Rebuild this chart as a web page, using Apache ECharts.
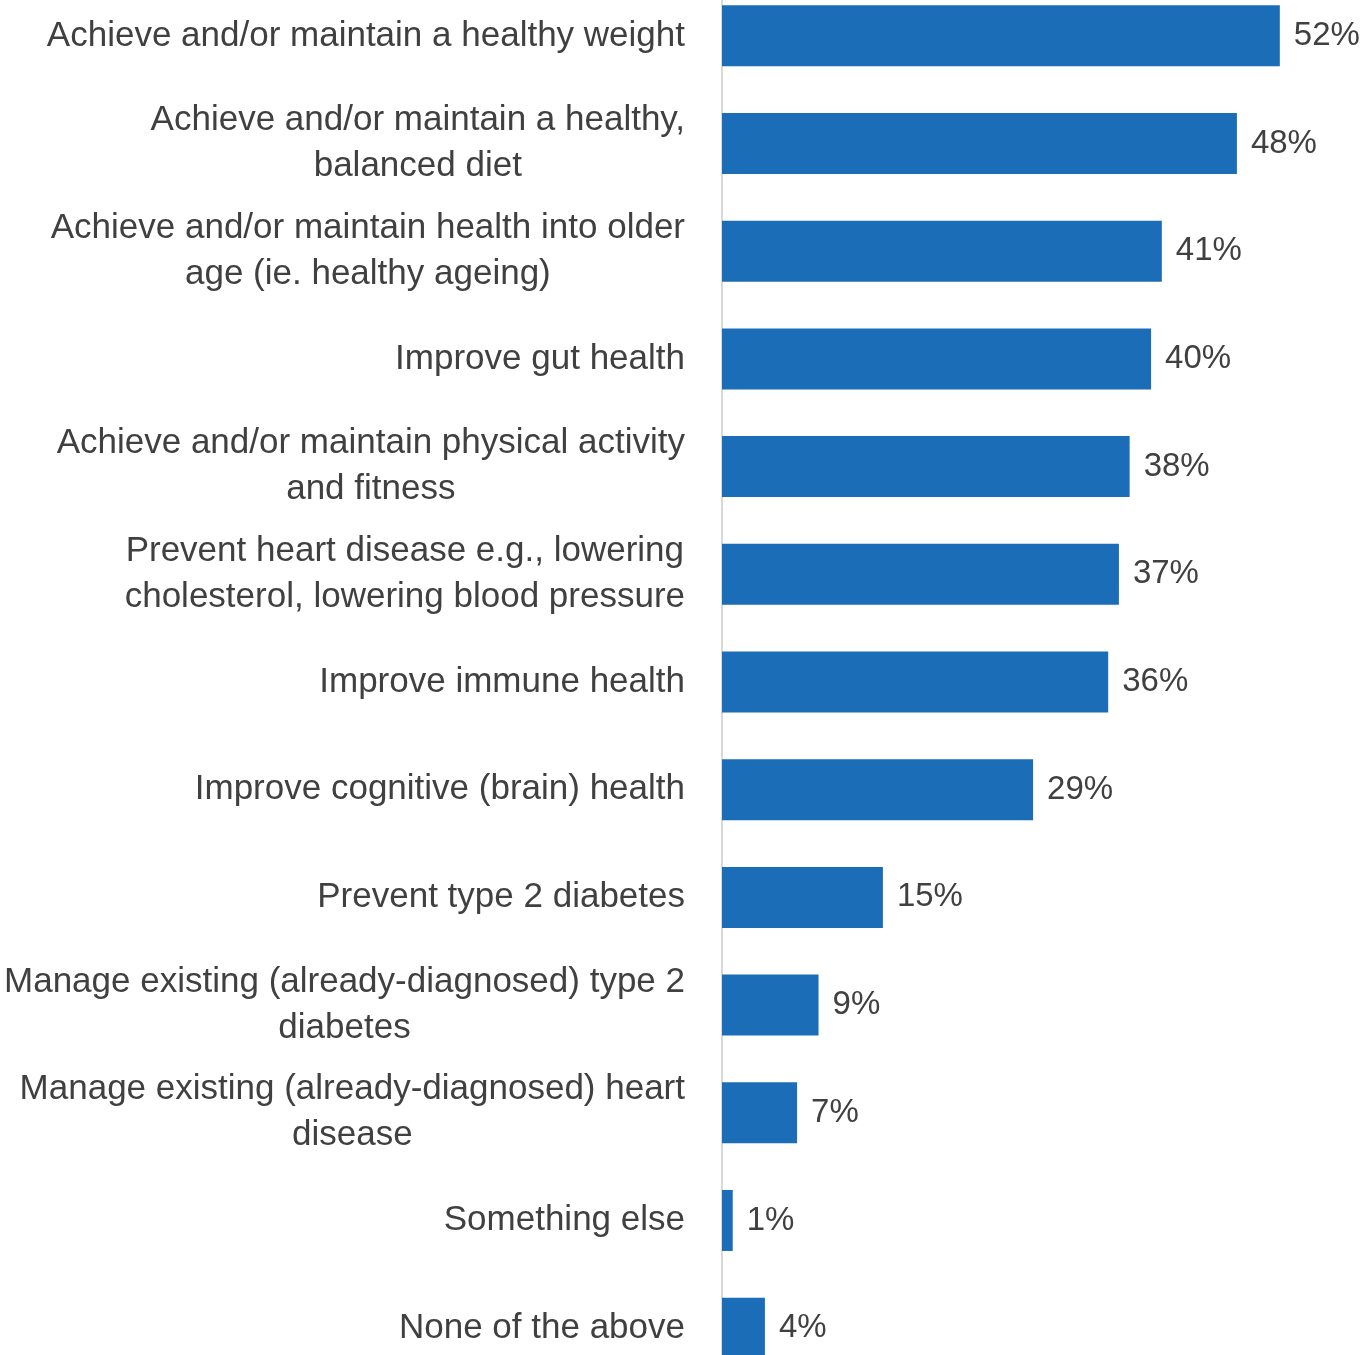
<!DOCTYPE html>
<html>
<head>
<meta charset="utf-8">
<script src="https://cdn.jsdelivr.net/npm/echarts@6/dist/echarts.min.js"></script>
<style>
  html, body { margin: 0; padding: 0; background: #ffffff; }
  #chart { width: 1364px; height: 1355px; }
</style>
</head>
<body>
<div id="chart"></div>
<script>
// Health goals, share of respondents (%), listed top to bottom
const categories = [
  'Achieve and/or maintain a healthy weight',
  'Achieve and/or maintain a healthy,\nbalanced diet',
  'Achieve and/or maintain health into older\nage (ie. healthy ageing)',
  'Improve gut health',
  'Achieve and/or maintain physical activity\nand fitness',
  'Prevent heart disease e.g., lowering\ncholesterol, lowering blood pressure',
  'Improve immune health',
  'Improve cognitive (brain) health',
  'Prevent type 2 diabetes',
  'Manage existing (already-diagnosed) type 2\ndiabetes',
  'Manage existing (already-diagnosed) heart\ndisease',
  'Something else',
  'None of the above'
];
const values = [52, 48, 41, 40, 38, 37, 36, 29, 15, 9, 7, 1, 4];

const textColor = '#404040';
const fontFamily = '"Liberation Sans", Arial, sans-serif';
const catFontSize = 35;

const chart = echarts.init(document.getElementById('chart'), null, { renderer: 'canvas' });

chart.setOption({
  animation: false,
  backgroundColor: '#ffffff',
  grid: {
    left: 722, right: 52, top: -18, bottom: -27,
    containLabel: false,
    outerBoundsMode: 'none'
  },
  xAxis: {
    type: 'value',
    min: 0,
    max: 55,
    show: false
  },
  yAxis: {
    type: 'category',
    inverse: true,
    data: categories,
    axisLine: { show: true, lineStyle: { color: '#d9d9d9', width: 2 } },
    axisTick: { show: false },
    axisLabel: {
      margin: 37,
      color: textColor,
      fontFamily: fontFamily,
      fontSize: catFontSize,
      lineHeight: 46,
      formatter: function (v) {
        return v.split('\n').map(function (s) { return '{c|' + s + '}'; }).join('\n');
      },
      rich: {
        c: { align: 'center', color: textColor, fontFamily: fontFamily, fontSize: catFontSize, lineHeight: 46 }
      }
    }
  },
  series: [{
    type: 'bar',
    data: values,
    barWidth: 61,
    itemStyle: { color: '#1a6db6' },
    label: {
      show: true,
      position: 'right',
      distance: 14,
      color: textColor,
      fontFamily: fontFamily,
      fontSize: 33,
      formatter: '{c}%'
    }
  }]
});
</script>
</body>
</html>
